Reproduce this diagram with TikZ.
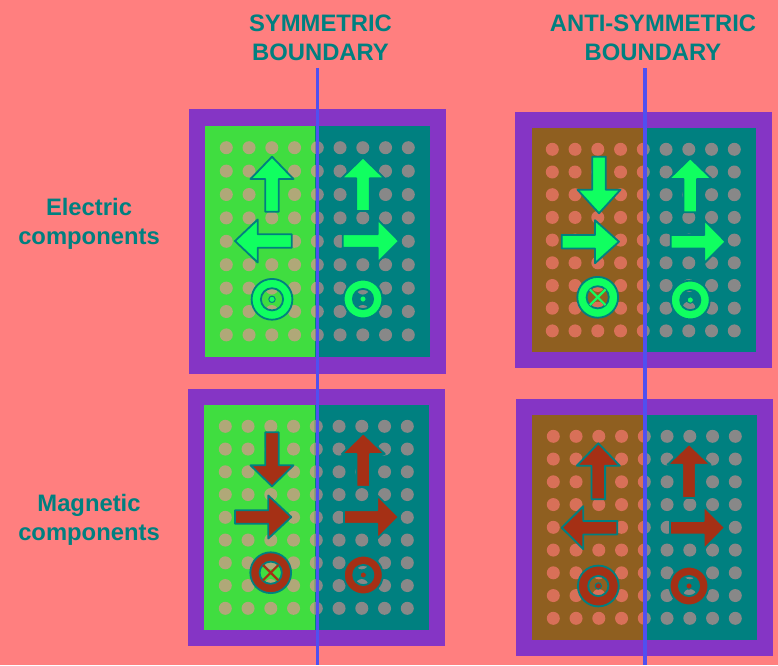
\documentclass[tikz,border=0pt]{standalone}
\usepackage{fontspec}
\setmainfont{Liberation Sans}
\definecolor{bgc}{HTML}{FF7F7F}
\definecolor{frame}{HTML}{8535C5}
\definecolor{tealc}{HTML}{008080}
\definecolor{greenc}{HTML}{40DD40}
\definecolor{brownc}{HTML}{8F5F20}
\definecolor{arrG}{HTML}{10FF60}
\definecolor{arrR}{HTML}{A53015}
\definecolor{dotG}{HTML}{B0A878}
\definecolor{dotT}{HTML}{888888}
\definecolor{dotB}{HTML}{D87058}
\definecolor{linec}{HTML}{5050F0}
\tikzset{
  lbl/.style={text=tealc,font=\fontsize{23.8}{29}\selectfont\bfseries,align=center,inner sep=0pt},
  blockarrow/.style={line width=1.8pt,draw=tealc,line join=round,fill=#1},
  ringshape/.style={line width=1.8pt,draw=tealc,even odd rule,fill=#1},
  bound/.style={line width=3.6pt,draw=linec}
}
% vertical block arrow: #1 colour, #2 x, #3 tail y, #4 head base y, #5 tip y
\newcommand{\varrow}[5]{\draw[blockarrow=#1] (#2-6.8,#3) -- (#2-6.8,#4) -- (#2-21.5,#4) -- (#2,#5) -- (#2+21.5,#4) -- (#2+6.8,#4) -- (#2+6.8,#3) -- cycle;}
% horizontal block arrow: #1 colour, #2 y, #3 tail x, #4 head base x, #5 tip x
\newcommand{\harrow}[5]{\draw[blockarrow=#1] (#3,#2-6.8) -- (#4,#2-6.8) -- (#4,#2-21.5) -- (#5,#2) -- (#4,#2+21.5) -- (#4,#2+6.8) -- (#3,#2+6.8) -- cycle;}
% ring with centre dot: #1 colour, #2 x, #3 y, #4 outer r, #5 hole r
\newcommand{\ringdot}[5]{\path[ringshape=#1] (#2,#3) circle[radius=#4+0.9] (#2,#3) circle[radius=#5-0.9];
  \draw[line width=1pt,draw=tealc,fill=#1] (#2,#3) circle[radius=3.2];}
% ring with a cross: #1 colour, #2 x, #3 y, #4 outer r, #5 hole r
\newcommand{\ringcross}[5]{\path[ringshape=#1] (#2,#3) circle[radius=#4+0.9] (#2,#3) circle[radius=#5-0.9];
  \begin{scope}
    \clip (#2,#3) circle[radius=#5-0.9];
    \draw[line width=2.2pt,draw=#1] (#2-9,#3-9) -- (#2+9,#3+9) (#2-9,#3+9) -- (#2+9,#3-9);
  \end{scope}}
\begin{document}
\begin{tikzpicture}[x=1pt,y=-1pt]
\useasboundingbox (0,0) rectangle (778,665);
\fill[bgc] (0,0) rectangle (778,665);
% outer x0,y0,x1,y1 / inner x0,y0,x1,y1 / split / left colour / left dot / first dot x,y / dot spacing x,y
\foreach \ox/\oy/\px/\py/\ix/\iy/\jx/\jy/\sp/\cl/\dl/\dx/\dy/\sx/\sy in {
  189/109/445.5/374/205/126/430/357/315/greenc/dotG/226.3/147.7/22.75/23.4,
  515/112/771.7/368/531.7/128/756/352/644/brownc/dotB/552.3/149.3/22.75/22.7,
  188.3/389/444.7/645.7/204/405/429/630/314.5/greenc/dotG/225.3/426.3/22.75/22.75,
  516/399/772.7/655.7/532/415/757/640/645/brownc/dotB/553.3/436.3/22.75/22.75}{
  \fill[frame] (\ox,\oy) rectangle (\px,\py);
  \fill[\cl] (\ix,\iy) rectangle (\sp,\jy);
  \fill[tealc] (\sp,\iy) rectangle (\jx,\jy);
  \begin{scope}
    \clip (\ix,\iy) rectangle (\sp,\jy);
    \foreach \m in {0,...,8}{\foreach \n in {0,...,8}{
      \fill[\dl] ({\dx+\m*\sx},{\dy+\n*\sy}) circle[radius=6.5];}}
  \end{scope}
  \begin{scope}
    \clip (\sp,\iy) rectangle (\jx,\jy);
    \foreach \m in {0,...,8}{\foreach \n in {0,...,8}{
      \fill[dotT] ({\dx+\m*\sx},{\dy+\n*\sy}) circle[radius=6.5];}}
  \end{scope}
}
% top left
\varrow{arrG}{272}{211.7}{179}{156.7}
\harrow{arrG}{241}{291.7}{257.7}{235}
\varrow{arrG}{363}{211}{178.3}{157.5}
\harrow{arrG}{241}{342.7}{377.7}{399}
\ringdot{arrG}{272}{299.3}{19.5}{12}
\ringdot{arrG}{363}{299}{18.5}{11}
% top right
\varrow{arrG}{599}{156.7}{189.7}{213.3}
\harrow{arrG}{241.7}{561.7}{595}{619}
\varrow{arrG}{690.3}{212.3}{179}{158.2}
\harrow{arrG}{241.7}{670.7}{704.3}{725.7}
\ringcross{arrG}{597.7}{297.3}{19.5}{12}
\ringdot{arrG}{690.3}{300}{18.5}{11}
% bottom left
\varrow{arrR}{272}{432.3}{465.3}{486.3}
\harrow{arrR}{517}{235}{268.3}{291.3}
\varrow{arrR}{363.3}{486.7}{454}{433.2}
\harrow{arrR}{517}{344}{377.3}{399}
\ringcross{arrR}{270.7}{572.7}{19.5}{12}
\ringdot{arrR}{363.3}{575}{18.5}{11}
% bottom right
\varrow{arrR}{598.3}{499.3}{465.7}{443.3}
\harrow{arrR}{527.7}{617.3}{583.3}{561.7}
\varrow{arrR}{689}{498}{464.7}{444}
\harrow{arrR}{527.7}{670}{703.7}{725}
\ringdot{arrR}{598.3}{586}{19.5}{11}
\ringdot{arrR}{689}{586}{18.5}{11}
% boundaries
\coordinate (sa) at (317.5,68);
\coordinate (sb) at (317.5,665);
\coordinate (aa) at (645,68);
\coordinate (ab) at (645,665);
\draw[bound] (sa) -- (sb);
\draw[bound] (aa) -- (ab);
% labels
\node[lbl] (sym) at (320.5,38) {SYMMETRIC\\BOUNDARY};
\node[lbl] (anti) at (653,38) {ANTI-SYMMETRIC\\BOUNDARY};
\node[lbl] (elec) at (89,224) {Electric\\components};
\node[lbl] (magn) at (89,520) {Magnetic\\components};
\end{tikzpicture}
\end{document}
